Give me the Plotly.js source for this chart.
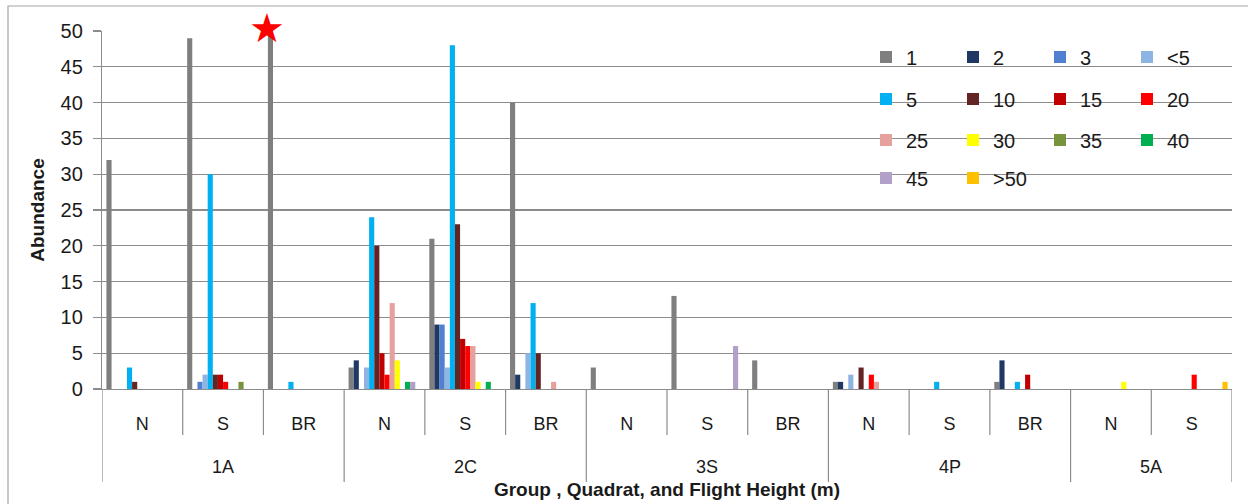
<!DOCTYPE html>
<html>
<head>
<meta charset="utf-8">
<script src="https://cdn.plot.ly/plotly-3.0.1.min.js"></script>
<style>html,body{margin:0;padding:0;background:#fff;}#chart{width:1248px;height:504px;}</style>
</head>
<body>
<div id="chart"></div>
<script>
// ---- data ----
const groups   = ['1A','1A','1A','2C','2C','2C','3S','3S','3S','4P','4P','4P','5A','5A'];
const quadrats = ['N','S','BR','N','S','BR','N','S','BR','N','S','BR','N','S'];
const seriesNames = ['1','2','3','<5','5','10','15','20','25','30','35','40','45','>50'];
const h1   = [32,49,50, 3,21,40, 3,13, 4, 1, 0, 1, 0, 0];
const h2   = [ 0, 0, 0, 4, 9, 2, 0, 0, 0, 1, 0, 4, 0, 0];
const h3   = [ 0, 1, 0, 0, 9, 0, 0, 0, 0, 0, 0, 0, 0, 0];
const hLt5 = [ 0, 2, 0, 3, 3, 5, 0, 0, 0, 2, 0, 0, 0, 0];
const h5   = [ 3,30, 1,24,48,12, 0, 0, 0, 0, 1, 1, 0, 0];
const h10  = [ 1, 2, 0,20,23, 5, 0, 0, 0, 3, 0, 0, 0, 0];
const h15  = [ 0, 2, 0, 5, 7, 0, 0, 0, 0, 0, 0, 2, 0, 0];
const h20  = [ 0, 1, 0, 2, 6, 0, 0, 0, 0, 2, 0, 0, 0, 2];
const h25  = [ 0, 0, 0,12, 6, 1, 0, 0, 0, 1, 0, 0, 0, 0];
const h30  = [ 0, 0, 0, 4, 1, 0, 0, 0, 0, 0, 0, 0, 1, 0];
const h35  = [ 0, 1, 0, 0, 0, 0, 0, 0, 0, 0, 0, 0, 0, 0];
const h40  = [ 0, 0, 0, 1, 1, 0, 0, 0, 0, 0, 0, 0, 0, 0];
const h45  = [ 0, 0, 0, 1, 0, 0, 0, 6, 0, 0, 0, 0, 0, 0];
const hGt50= [ 0, 0, 0, 0, 0, 0, 0, 0, 0, 0, 0, 0, 0, 1];
const seriesValues = [h1,h2,h3,hLt5,h5,h10,h15,h20,h25,h30,h35,h40,h45,hGt50];
const yTicks = [0,5,10,15,20,25,30,35,40,45,50];

// ---- styles ----
const colors = ['#7f7f7f','#1f3864','#4f81d0','#8db4e2','#00b0f0','#632523','#c00000','#ff0000',
                '#e6a09e','#ffff00','#77933c','#00b050','#b1a0c7','#ffc000'];
const FONT = 'Liberation Sans, Arial, sans-serif';
const GRID = '#8c8c8c';

const cats = groups.map((g,i)=>g+' '+quadrats[i]);
const legendIds = ['legend','legend2','legend3','legend4'];

const traces = seriesNames.map((name,i)=>({
  type:'bar', name:name, x:cats, y:seriesValues[i],
  marker:{color:colors[i], line:{width:0}},
  legend: legendIds[Math.floor(i/4)],
  hoverinfo:'x+y+name'
}));

// geometry helpers (paper coords relative to plot area)
const L=102, R=1232, T=31, B=389;
const pw=R-L, ph=B-T;
const px = v => (v-L)/pw;
const py = v => (B-v)/ph;

const shapes = [];
// outer chart frame (left & top)
shapes.push({type:'rect', xref:'paper', yref:'paper', x0:px(8), x1:px(1260), y0:py(520), y1:py(6),
  line:{color:'#a6a6a6', width:1.2}, layer:'below'});
// legend backdrop hiding gridlines
shapes.push({type:'rect', xref:'paper', yref:'paper', x0:px(870), x1:px(1214), y0:py(198), y1:py(38),
  fillcolor:'#ffffff', line:{width:0}, layer:'between'});
// category boundaries below the axis
for(let i=0;i<=cats.length;i++){
  const isGroupEdge = (i===0 || i===cats.length || groups[i]!==groups[i-1]);
  shapes.push({type:'line', xref:'x', yref:'paper', x0:i-0.5, x1:i-0.5, y0:0,
    y1: isGroupEdge ? py(482) : py(435), line:{color:GRID, width:1.2}});
}

// group labels
const annotations = [];
const uniqGroups = [...new Set(groups)];
uniqGroups.forEach(g=>{
  const idx = groups.map((v,i)=>v===g?i:-1).filter(i=>i>=0);
  const mid = (idx[0]+idx[idx.length-1])/2;
  annotations.push({xref:'x', yref:'paper', x:mid, y:py(467), text:g, showarrow:false,
    font:{family:FONT, size:18, color:'#1a1a1a'}, xanchor:'center', yanchor:'middle'});
});
// red star marker above the truncated bar
annotations.push({xref:'x', yref:'paper', x:2, xshift:-37, y:py(28), text:'\u2605', showarrow:false,
  font:{family:'DejaVu Sans', size:40, color:'#ff0000'}, xanchor:'center', yanchor:'middle'});

const legendRowY = [57, 99, 140, 178];
const legendBase = {orientation:'h', xanchor:'left', yanchor:'middle', entrywidth:42, entrywidthmode:'pixels',
  itemwidth:30, bgcolor:'rgba(0,0,0,0)', borderwidth:0, font:{family:FONT, size:20, color:'#1a1a1a'}, traceorder:'normal'};

const layout = {
  width:1248, height:504,
  margin:{l:L, r:1248-R, t:T, b:504-B, pad:0, autoexpand:false},
  paper_bgcolor:'#ffffff', plot_bgcolor:'#ffffff',
  barmode:'group', bargap:0.11, bargroupgap:0,
  font:{family:FONT, color:'#1a1a1a'},
  xaxis:{type:'category', range:[-0.5, cats.length-0.5], tickvals:cats, ticktext:quadrats,
    ticks:'', showgrid:false, showline:true, linecolor:GRID, linewidth:1.2, ticklabelstandoff:18,
    tickfont:{family:FONT, size:18, color:'#1a1a1a'},
    title:{text:'<b>Group , Quadrat, and Flight Height (m)</b>', font:{family:FONT, size:19, color:'#1a1a1a'}, standoff:50},
    fixedrange:true},
  yaxis:{range:[0,50], tickvals:yTicks, ticks:'outside', ticklen:8, tickcolor:GRID, tickwidth:1.2,
    showgrid:true, gridcolor:GRID, gridwidth:1.2, zeroline:false, showline:true, linecolor:GRID, linewidth:1.2,
    tickfont:{family:FONT, size:20, color:'#1a1a1a'}, ticklabelstandoff:6,
    title:{text:'<b>Abundance</b>', font:{family:FONT, size:19, color:'#1a1a1a'}, standoff:10},
    fixedrange:true},
  shapes:shapes, annotations:annotations,
  showlegend:true
};
legendIds.forEach((id,k)=>{
  layout[id] = Object.assign({}, legendBase, {x:px(866), y:py(legendRowY[k])});
});

Plotly.newPlot('chart', traces, layout, {displayModeBar:false, staticPlot:true});
</script>
</body>
</html>
